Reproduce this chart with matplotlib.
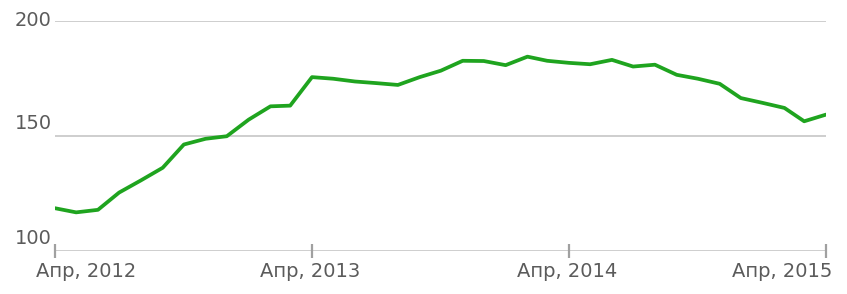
import matplotlib
matplotlib.use("Agg")
import matplotlib.pyplot as plt
import matplotlib.dates as mdates
import matplotlib.transforms as mtransforms
import pandas as pd

# monthly values, Apr 2012 .. Apr 2015
months = pd.date_range("2012-04-01", "2015-04-01", freq="MS")
values = [118.6, 116.8, 117.9, 125.4, 130.7, 136.2, 146.3, 148.8, 149.9, 157.1,
          162.9, 163.2, 175.6, 174.9, 173.7, 173.0, 172.2, 175.6, 178.4, 182.7,
          182.6, 180.8, 184.5, 182.7, 181.8, 181.2, 183.1, 180.2, 181.0, 176.6,
          174.9, 172.7, 166.5, 164.4, 162.2, 156.4, 159.3]

year_ticks = pd.to_datetime(["2012-04-01", "2013-04-01", "2014-04-01", "2015-04-01"])
year_labels = ["Апр, 2012", "Апр, 2013", "Апр, 2014", "Апр, 2015"]
y_ticks = [100, 150, 200]

text_color = "#5b5b5b"
grid_color = "#c6c6c6"
line_color = "#1fa41f"

fig = plt.figure(figsize=(8.47, 2.94), dpi=100)
ax = fig.add_axes([55 / 847, 43 / 294, 771 / 847, 230 / 294])

ax.plot(months, values, color=line_color, lw=2.7, solid_joinstyle="round",
        solid_capstyle="round", zorder=3)

ax.set_xlim(year_ticks[0], year_ticks[-1])
ax.set_ylim(100, 200)

# grid lines
for yv in y_ticks:
    ax.axhline(yv, color=grid_color, lw=1.2, zorder=1)

for s in ax.spines.values():
    s.set_visible(False)

ax.set_xticks(year_ticks)
ax.set_xticklabels([])
ax.set_yticks([])
ax.tick_params(axis="x", direction="inout", length=10, width=1.6, color="#a0a0a0")

# y labels
for yv in y_ticks:
    if yv == 200:
        tr = mtransforms.offset_copy(ax.get_yaxis_transform(), fig=fig, x=-3, y=0, units="dots")
        va = "center"
    else:
        tr = mtransforms.offset_copy(ax.get_yaxis_transform(), fig=fig, x=-3, y=3, units="dots")
        va = "bottom"
    ax.text(0, yv, str(yv), transform=tr, ha="right", va=va, fontsize=14,
            color=text_color, family="DejaVu Sans")

# x labels
for i, (d, lab) in enumerate(zip(year_ticks, year_labels)):
    if i == 0:
        dx, ha = -19, "left"
    elif i == len(year_ticks) - 1:
        dx, ha = 6, "right"
    else:
        dx, ha = -2, "center"
    tr = mtransforms.offset_copy(ax.get_xaxis_transform(), fig=fig, x=dx, y=-11, units="dots")
    ax.text(mdates.date2num(d), 0, lab, transform=tr, ha=ha, va="top", fontsize=14,
            color=text_color, family="DejaVu Sans")

fig.savefig("out.png", dpi=100, facecolor="white")
